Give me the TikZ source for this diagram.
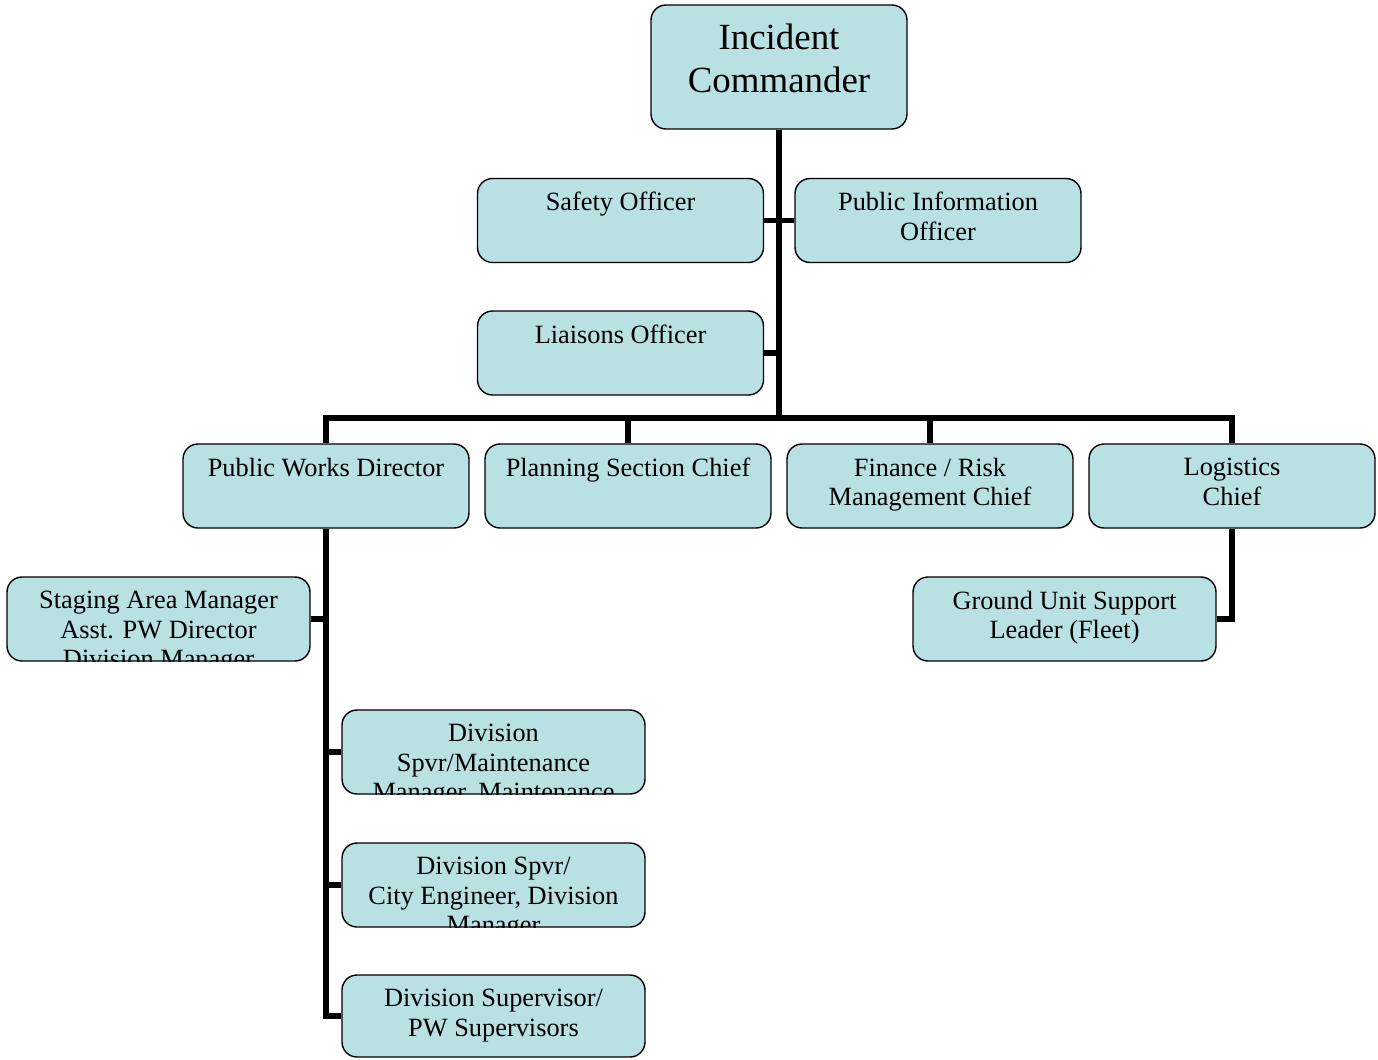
\documentclass[tikz,border=0pt]{standalone}
\usepackage{fontspec}
\setmainfont{Liberation Serif}
\usetikzlibrary{positioning}
\definecolor{boxblue}{RGB}{185,224,227}

\begin{document}
\begin{tikzpicture}[x=0.02cm,y=-0.02cm,
	box/.style={draw=black,line width=0.8pt,rounded corners=0.3cm,fill=boxblue,
		minimum width=5.72cm,minimum height=1.68cm,inner sep=0pt},
	wide/.style={minimum width=6.06cm},
	plain/.style={draw=none,fill=none,minimum size=0pt,inner sep=0pt,
		anchor=north,align=center},
	txt/.style={path picture={\node[plain,font=\fontsize{15}{17}\selectfont]
		at ([yshift=-0.26cm]path picture bounding box.north) {#1};}},
	conn/.style={line width=3pt,line join=miter}]
	\useasboundingbox (0,0) rectangle (1378,1059);

	% top
	\node[box,minimum width=5.12cm,minimum height=2.48cm,
		path picture={\node[plain,font=\fontsize{21}{24.4}\selectfont]
		at ([yshift=-0.36cm]path picture bounding box.north)
		{Incident\\Commander};}] (ic) at (779,67) {};

	% staff
	\node[box,txt={Safety Officer}] (so) at (620.5,220.5) {};
	\node[box,txt={Public Information\\Officer}] (pio) at (938,220.5) {};
	\node[box,txt={Liaisons Officer}] (lo) at (620.5,353) {};

	% sections
	\node[box,txt={Public Works Director}] (pwd) at (326,486) {};
	\node[box,txt={Planning Section Chief}] (psc) at (628,486) {};
	\node[box,txt={Finance / Risk\\Management Chief}] (frm) at (930,486) {};
	\node[box,txt={Logistics\\Chief}] (log) at (1232,486) {};

	% units
	\node[box,wide,txt={Staging Area Manager\\Asst. PW Director\\Division Manager}] (stg) at (158.5,619) {};
	\node[box,wide,txt={Ground Unit Support\\Leader (Fleet)}] (gus) at (1064.5,619) {};
	\node[box,wide,txt={Division\\Spvr/Maintenance\\Manager, Maintenance}] (dsm) at (493.5,752) {};
	\node[box,wide,txt={Division Spvr/\\City Engineer, Division\\Manager}] (dse) at (493.5,885) {};
	\node[box,wide,minimum height=1.64cm,txt={Division Supervisor/\\PW Supervisors}] (dsp) at (493.5,1016) {};

	\coordinate (bar) at (779,418);

	\draw[conn] (ic.south) -- (bar);
	\draw[conn] (so.east) -- (pio.west);
	\draw[conn] (lo.east) -- (lo.east -| ic.south);
	\draw[conn] (pwd.north) -- (pwd.north |- bar) -- (log.north |- bar) -- (log.north);
	\draw[conn] (psc.north) -- (psc.north |- bar);
	\draw[conn] (frm.north) -- (frm.north |- bar);
	\draw[conn] (pwd.south) |- (dsp.west);
	\draw[conn] (stg.east) -- (stg.east -| pwd.south);
	\draw[conn] (dsm.west) -- (dsm.west -| pwd.south);
	\draw[conn] (dse.west) -- (dse.west -| pwd.south);
	\draw[conn] (log.south) |- (gus.east);
\end{tikzpicture}
\end{document}
